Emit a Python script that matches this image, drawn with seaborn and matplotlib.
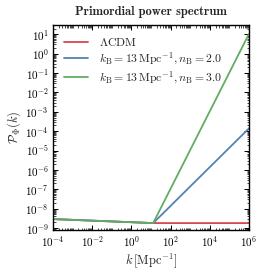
import numpy as np
import pandas as pd
import matplotlib
matplotlib.use("Agg")
import matplotlib.pyplot as plt
from matplotlib.ticker import LogLocator, FixedLocator, NullFormatter
import seaborn as sns

# Data
k_nodes = [1e-4, 13.0, 1e6]
P_lcdm = [2.9e-9, 1.8e-9, 1.8e-9]
P_nb2 = [2.9e-9, 1.8e-9, 1.4e-4]
P_nb3 = [2.9e-9, 1.8e-9, 1.06e1]
labels = [r"$\Lambda$CDM",
          r"$k_\mathrm{B} = 13\,\mathrm{Mpc}^{-1}, n_\mathrm{B} = 2.0$",
          r"$k_\mathrm{B} = 13\,\mathrm{Mpc}^{-1}, n_\mathrm{B} = 3.0$"]
colors = ["#d9474f", "#5283b3", "#62ac62"]
x_ticks = [1e-4, 1e-2, 1e0, 1e2, 1e4, 1e6]
y_ticks = [1e-9, 1e-8, 1e-7, 1e-6, 1e-5, 1e-4, 1e-3, 1e-2, 1e-1, 1e0, 1e1]

sns.set_theme(style="ticks")
plt.rcParams.update({
    "font.family": "serif",
    "font.serif": ["cmr10"],
    "mathtext.fontset": "cm",
    "axes.formatter.use_mathtext": True,
    "axes.edgecolor": "black",
    "axes.linewidth": 1.0,
    "xtick.color": "black",
    "ytick.color": "black",
})

fig = plt.figure(figsize=(2.66, 2.76), dpi=100)
ax = fig.add_axes([0.199, 0.167, 0.737, 0.742])

series = [P_lcdm, P_nb2, P_nb3]
for vals, lab, col in zip(series, labels, colors):
    df = pd.DataFrame({"k": k_nodes, "P": vals})
    sns.lineplot(data=df, x="k", y="P", ax=ax, color=col, lw=1.3, label=lab)

ax.set_xscale("log")
ax.set_yscale("log")
ax.set_xlim(1e-4, 1e6)
ax.set_ylim(8e-10, 3e1)
ax.xaxis.set_major_locator(FixedLocator(x_ticks))
ax.xaxis.set_minor_locator(LogLocator(base=10, subs=np.arange(1, 10), numticks=100))
ax.xaxis.set_minor_formatter(NullFormatter())
ax.yaxis.set_major_locator(FixedLocator(y_ticks))
ax.yaxis.set_minor_locator(LogLocator(base=10, subs=np.arange(2, 10), numticks=100))
ax.yaxis.set_minor_formatter(NullFormatter())
ax.tick_params(which="both", direction="in", top=True, right=True, labelsize=8, pad=3)
ax.tick_params(which="major", length=3.5, width=0.7)
ax.tick_params(which="minor", length=1.8, width=0.5)

ax.set_xlabel(r"$k\,[\mathrm{Mpc}^{-1}]$", fontsize=9, labelpad=2)
ax.set_ylabel(r"$\mathcal{P}_\Phi(k)$", fontsize=9, labelpad=2)
ax.set_title("Primordial power spectrum", fontsize=9, fontweight="bold",
             family="cmb10", pad=7)

leg = ax.legend(loc="upper left", frameon=False, fontsize=8.5, handlelength=2.1,
                handletextpad=0.9, labelspacing=0.22, borderaxespad=0.5)

fig.savefig("out.png", dpi=100)
